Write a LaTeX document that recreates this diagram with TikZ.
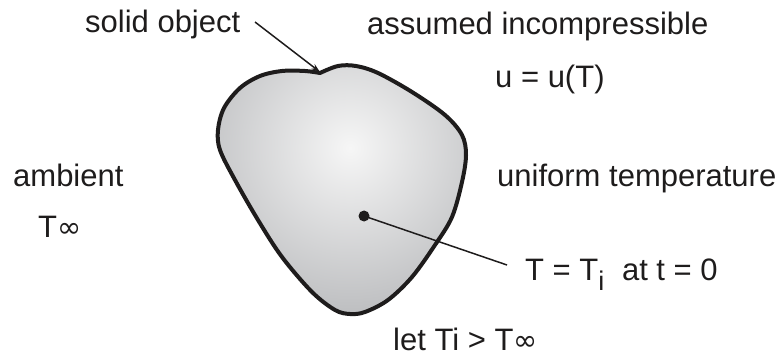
\documentclass[tikz,border=0pt]{standalone}
\usepackage{fontspec}
\setmainfont{Liberation Sans}
\newfontfamily\symfont{DejaVu Sans}
\usetikzlibrary{arrows.meta}
\definecolor{edgegray}{RGB}{140,142,146}
\definecolor{centerwhite}{RGB}{246,246,246}
\definecolor{inkc}{RGB}{30,28,28}
\tikzset{
  lbl/.style={anchor=base west, inner sep=0pt, font=\fontsize{31}{31}\selectfont, text=inkc},
  blobline/.style={line width=4pt, draw=inkc, line join=round},
  thinline/.style={line width=1.5pt, draw=inkc},
}
\newcommand{\Tinf}{T{\symfont\fontsize{29}{29}\selectfont ∞}}
\begin{document}
\begin{tikzpicture}[x=1pt,y=-1pt]
\useasboundingbox (0,0) rectangle (784,358);
\def\blobpath{(320,73) -- plot[smooth, tension=0.55] coordinates {(320,73) (338,66) (356,66) (378,73) (412,92) (445,115) (462,135) (466,155) (462,182) (452,217) (435,245) (412,277) (388,300) (365,312) (350,314) (335,310) (312,292) (282,257) (258,220) (235,180) (220,150) (218,130) (224,108) (240,88) (260,76) (282,71) (305,71) (320,73)} -- cycle}
\begin{scope}
  \clip \blobpath;
  \shade[inner color=centerwhite, outer color=edgegray] (350,148) circle (310);
\end{scope}
\draw[blobline] \blobpath;
% labels
\node[lbl] (solid) at (85,33) {solid object};
\node[lbl] (assumed) at (367,35) {assumed incompressible};
\node[lbl] (ueq) at (495,88) {u = u(T)};
\node[lbl] (ambient) at (13,187) {ambient};
\node[lbl] (tinf) at (38,237) {\Tinf};
\node[lbl] (uniform) at (497,187) {uniform temperature};
\node[lbl] (tinit) at (525,280) {T = T\raisebox{-10pt}{\fontsize{27}{27}\selectfont i}\hspace{9pt} at t = 0};
\node[lbl] (letti) at (393,350) {let Ti > \Tinf};
% connectors
\coordinate (arrstart) at (255,22);
\coordinate (notch) at (320,72);
\draw[thinline, -{Stealth[length=9pt,width=6pt]}] (arrstart) -- (notch);
\node[circle, fill=inkc, inner sep=0pt, minimum size=11pt] (dot) at (364,216) {};
\coordinate (lend) at (507,265);
\draw[thinline] (dot.center) -- (lend);
\end{tikzpicture}
\end{document}
